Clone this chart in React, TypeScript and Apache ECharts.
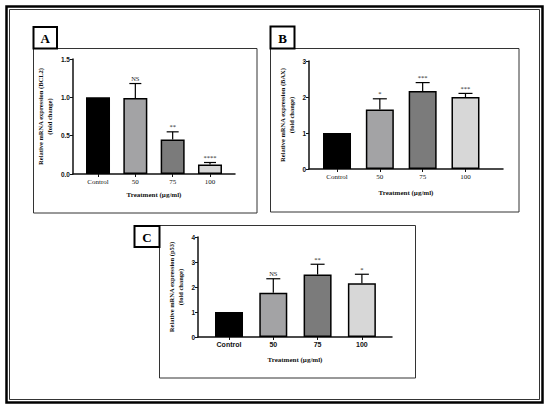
import React, { useEffect, useRef } from "react";
import * as echarts from "echarts";

const categories = ["Control", "50", "75", "100"];
const barColors = ["#000000", "#a3a3a5", "#7b7b7b", "#d7d7d7"];

const bcl2Mean = [1.0, 0.99, 0.45, 0.125];
const bcl2Err = [0, 0.19, 0.1, 0.025];
const bcl2Sig = ["", "NS", "**", "****"];

const baxMean = [1.0, 1.65, 2.17, 2.0];
const baxErr = [0, 0.3, 0.23, 0.1];
const baxSig = ["", "*", "***", "***"];

const p53Mean = [1.0, 1.77, 2.5, 2.15];
const p53Err = [0, 0.56, 0.41, 0.36];
const p53Sig = ["", "NS", "**", "*"];

const yTicksA = [0, 0.5, 1.0, 1.5];
const yTicksB = [0, 1, 2, 3];
const yTicksC = [0, 1, 2, 3, 4];

const SERIF = "Liberation Serif";
const SANS = "Liberation Sans";

type Panel = {
  mean: number[];
  err: number[];
  sig: string[];
  yTicks: number[];
  yName: string;
  grid: { left: number; top: number; width: number; height: number };
  xMin: number;
  xMax: number;
  barWidth: number;
  cap: number;
  xNameGap: number;
  yNameGap: number;
  tickFont: string;
  tickWeight: string;
  decimals: number;
};

const panels: Panel[] = [
  {
    mean: bcl2Mean, err: bcl2Err, sig: bcl2Sig, yTicks: yTicksA,
    yName: "Relative mRNA expression (BCL2)\n(fold change)",
    grid: { left: 73, top: 59, width: 162, height: 115 },
    xMin: -0.67, xMax: 3.67, barWidth: 24, cap: 6, xNameGap: 17, yNameGap: 19,
    tickFont: SERIF, tickWeight: "normal", decimals: 1,
  },
  {
    mean: baxMean, err: baxErr, sig: baxSig, yTicks: yTicksB,
    yName: "Relative mRNA expression (BAX)\n(fold change)",
    grid: { left: 309, top: 61, width: 194, height: 108 },
    xMin: -0.654, xMax: 3.876, barWidth: 28, cap: 7, xNameGap: 20, yNameGap: 13,
    tickFont: SERIF, tickWeight: "normal", decimals: 0,
  },
  {
    mean: p53Mean, err: p53Err, sig: p53Sig, yTicks: yTicksC,
    yName: "Relative mRNA expression (p53)\n(fold change)",
    grid: { left: 198, top: 237, width: 194, height: 100 },
    xMin: -0.7, xMax: 3.68, barWidth: 28, cap: 7, xNameGap: 19, yNameGap: 13,
    tickFont: SANS, tickWeight: "bold", decimals: 0,
  },
];

export default function App() {
  const ref = useRef<HTMLDivElement>(null);
  useEffect(() => {
    if (!ref.current) return;
    const chart = echarts.init(ref.current, null, { renderer: "svg" });
    const idx = [0, 1, 2, 3];

    const grids = panels.map((p) => ({ ...p.grid, containLabel: false }));
    const xAxes = panels.map((p, i) => ({
      gridIndex: i,
      type: "value",
      min: p.xMin,
      max: p.xMax,
      axisLine: { show: true, onZero: false, lineStyle: { color: "#111", width: 1.5 } },
      axisTick: { show: true, customValues: idx, length: 3, lineStyle: { color: "#111", width: 1 } },
      axisLabel: {
        customValues: idx,
        formatter: (v: number) => categories[Math.round(v)] ?? "",
        fontFamily: p.tickFont,
        fontWeight: p.tickWeight,
        fontSize: 7,
        color: "#111",
        margin: 4,
      },
      splitLine: { show: false },
      name: "Treatment (µg/ml)",
      nameLocation: "middle",
      nameGap: p.xNameGap,
      nameTextStyle: { fontFamily: SERIF, fontWeight: "bold", fontSize: 7, color: "#111" },
    }));
    const yAxes = panels.map((p, i) => ({
      gridIndex: i,
      type: "value",
      min: 0,
      max: p.yTicks[p.yTicks.length - 1],
      interval: p.yTicks[1] - p.yTicks[0],
      axisLine: { show: true, onZero: false, lineStyle: { color: "#111", width: 1.5 } },
      axisTick: { show: true, length: 3, lineStyle: { color: "#111", width: 1 } },
      axisLabel: {
        formatter: (v: number) => v.toFixed(p.decimals),
        fontFamily: SANS,
        fontWeight: "bold",
        fontSize: 6.5,
        color: "#111",
        margin: 3,
      },
      splitLine: { show: false },
      name: p.yName,
      nameLocation: "middle",
      nameRotate: 90,
      nameGap: p.yNameGap,
      nameTextStyle: { fontFamily: SERIF, fontWeight: "bold", fontSize: 6.5, lineHeight: 9, color: "#111" },
    }));

    const series: any[] = [];
    panels.forEach((p, i) => {
      series.push({
        type: "bar",
        xAxisIndex: i,
        yAxisIndex: i,
        barWidth: p.barWidth,
        data: p.mean.map((m, k) => ({
          value: [k, m],
          itemStyle: { color: barColors[k], borderColor: "#000", borderWidth: 1.5 },
        })),
        z: 2,
      });
      series.push({
        type: "custom",
        xAxisIndex: i,
        yAxisIndex: i,
        z: 3,
        data: p.mean.map((m, k) => [k, m, p.err[k]]),
        renderItem: (params: any, api: any) => {
          const x = api.value(0);
          const y = api.value(1);
          const e = api.value(2);
          const p0 = api.coord([x, y]);
          const p1 = api.coord([x, y + e]);
          const children: any[] = [];
          if (e > 0) {
            children.push({
              type: "line",
              shape: { x1: p0[0], y1: p0[1], x2: p1[0], y2: p1[1] },
              style: { stroke: "#000", lineWidth: 1.2 },
            });
            children.push({
              type: "line",
              shape: { x1: p1[0] - p.cap, y1: p1[1], x2: p1[0] + p.cap, y2: p1[1] },
              style: { stroke: "#000", lineWidth: 1.2 },
            });
          }
          const s = p.sig[params.dataIndex];
          if (s) {
            children.push({
              type: "text",
              style: {
                text: s,
                x: p1[0],
                y: p1[1] - 1.5,
                textAlign: "center",
                textVerticalAlign: "bottom",
                align: "center",
                verticalAlign: "bottom",
                fontFamily: SERIF,
                fontSize: 6.5,
                fill: "#222",
              },
            });
          }
          return { type: "group", children };
        },
      });
    });

    const graphic: any[] = [
      { type: "rect", shape: { x: 6.5, y: 6.5, width: 536, height: 396 }, style: { fill: "none", stroke: "#000", lineWidth: 2.5 }, z: 0 },
      { type: "rect", shape: { x: 9.5, y: 9.5, width: 530, height: 390 }, style: { fill: "none", stroke: "#000", lineWidth: 0.8 }, z: 0 },
      { type: "rect", shape: { x: 33.5, y: 48.5, width: 223.5, height: 164.5 }, style: { fill: "none", stroke: "#333", lineWidth: 1 }, z: 0 },
      { type: "rect", shape: { x: 270.5, y: 48.5, width: 248.5, height: 163.5 }, style: { fill: "none", stroke: "#333", lineWidth: 1 }, z: 0 },
      { type: "rect", shape: { x: 159.5, y: 225.5, width: 256, height: 152.5 }, style: { fill: "none", stroke: "#333", lineWidth: 1 }, z: 0 },
      { type: "rect", shape: { x: 33.5, y: 27, width: 23.5, height: 21.5 }, style: { fill: "#fff", stroke: "#000", lineWidth: 2 }, z: 1 },
      { type: "rect", shape: { x: 270.5, y: 26.5, width: 24, height: 22 }, style: { fill: "#fff", stroke: "#000", lineWidth: 2 }, z: 1 },
      { type: "rect", shape: { x: 134.5, y: 226, width: 25, height: 21 }, style: { fill: "#fff", stroke: "#000", lineWidth: 2 }, z: 1 },
      { type: "text", x: 45.25, y: 38.5, style: { text: "A", fontFamily: SERIF, fontWeight: "bold", fontSize: 13, fill: "#000", align: "center", verticalAlign: "middle" }, z: 2 },
      { type: "text", x: 282.5, y: 38, style: { text: "B", fontFamily: SERIF, fontWeight: "bold", fontSize: 13, fill: "#000", align: "center", verticalAlign: "middle" }, z: 2 },
      { type: "text", x: 147, y: 237, style: { text: "C", fontFamily: SERIF, fontWeight: "bold", fontSize: 13, fill: "#000", align: "center", verticalAlign: "middle" }, z: 2 },
    ];

    chart.setOption({
      animation: false,
      backgroundColor: "#ffffff",
      grid: grids,
      xAxis: xAxes,
      yAxis: yAxes,
      series,
      graphic,
    });
    return () => chart.dispose();
  }, []);
  return (
    <div
      ref={ref}
      style={{ position: "absolute", left: 0, top: 0, width: 550, height: 411, background: "#fff" }}
    />
  );
}
